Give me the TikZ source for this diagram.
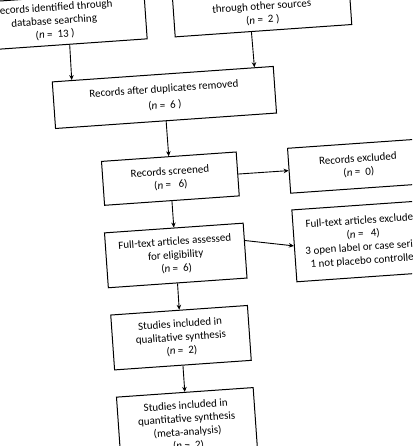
\documentclass[tikz,border=0pt]{standalone}
\usepackage{fontspec}
\setmainfont{Carlito}
\usetikzlibrary{calc,arrows.meta}
\begin{document}
\begin{tikzpicture}[->, >={Stealth[length=5pt,width=4.5pt]}, x=1pt, y=1pt,
    box/.style={rectangle, draw, line width=1pt, align=center, inner sep=2pt,
        font=\fontsize{11}{13.4}\selectfont}]
    \useasboundingbox (0,0) rectangle (412,-446);
    \clip (0,0) rectangle (412,-446);
    \begin{scope}[rotate=4, transform shape, line width=0.9pt]
    \node (dbsearch) [box, minimum width=183, minimum height=48] at (52.6,-25) {Records identified through\\database searching\\(\textit{n} =\ \ 13 )};
    \node (other) [box, minimum width=177, minimum height=48] at (260.7,-25) {Additional records identified\\through other sources\\(\textit{n} =\ \ 2 )};
    \node (dupl) [box, minimum width=221.5, minimum height=46.7] at (157.2,-108.7) {Records after duplicates removed\\[3pt](\textit{n} =\ \ 6 )};
    \node (screened) [box, minimum width=135, minimum height=44] at (157.5,-190.1) {Records screened\\(\textit{n} =\ \ \ 6)};
    \node (excl) [box, minimum width=139, minimum height=45] at (346,-190.5) {Records excluded\\(\textit{n} =\ \ 0)};
    \node (fulltext) [box, minimum width=139, minimum height=55] at (157.5,-267.1) {Full-text articles assessed\\for eligibility\\(\textit{n} =\ \ 6)};
    \node (fullexcl) [box, minimum width=139, minimum height=72] at (346,-265.8) {Full-text articles excluded\\(\textit{n} =\ \ \ 4)\\3 open label or case series\\1 not placebo controlled};
    \node (qual) [box, minimum width=137, minimum height=55] at (157,-349.5) {Studies included in\\qualitative synthesis\\(\textit{n} =\ \ 2)};
    \node (quant) [box, minimum width=137, minimum height=67] at (157,-437.8) {Studies included in\\quantitative synthesis\\(meta-analysis)\\(\textit{n} =\ \ 2)};

    % Arrows
    \draw [->] ($(dbsearch.south west)!0.575!(dbsearch.south east)$) -- ($(dupl.north west)!0.09!(dupl.north east)$);
    \draw [->] ($(other.south west)!0.432!(other.south east)$) -- ($(dupl.north west)!0.913!(dupl.north east)$);
    \draw [->] (dupl) -- (screened);
    \draw [->] (screened) -- (excl);
    \draw [->] (screened) -- (fulltext);
    \draw [->] ($(fulltext.east)!0.36!(fulltext.north east)$) -- (fullexcl.west);
    \draw [->] (fulltext) -- (qual);
    \draw [->] (qual) -- (quant);
    \end{scope}
\end{tikzpicture}
\end{document}
